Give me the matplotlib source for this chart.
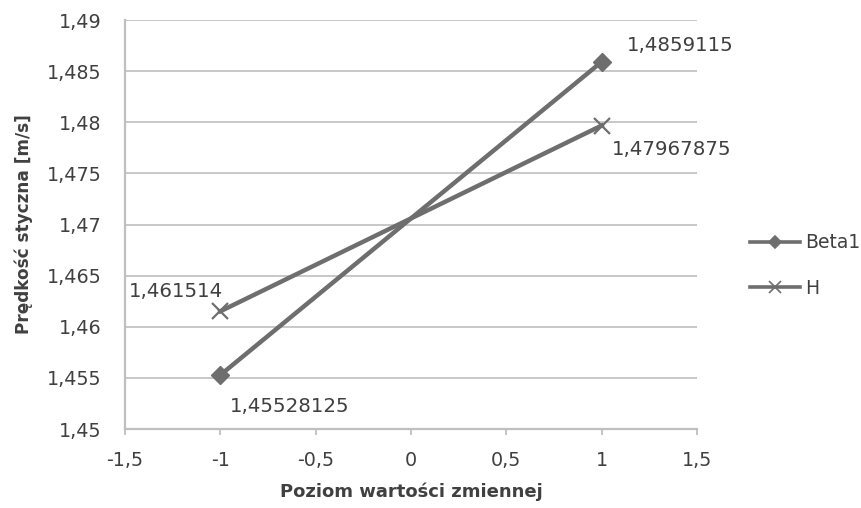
import matplotlib.pyplot as plt
import matplotlib.ticker as mticker

# dane z wykresu
poziomy = [-1, 1]
beta1 = [1.45528125, 1.4859115]
h = [1.461514, 1.47967875]
x_ticks = [-1.5, -1, -0.5, 0, 0.5, 1, 1.5]
y_ticks = [1.45, 1.455, 1.46, 1.465, 1.47, 1.475, 1.48, 1.485, 1.49]

plt.rcParams['font.family'] = ['DejaVu Sans']

kolor_linii = '#6e6e6e'
kolor_tekstu = '#404040'
kolor_osi = '#bfbfbf'


def fmt_pl(v, pos=None):
    # przecinek dziesiętny jak w Excelu
    return f'{v:.10g}'.replace('.', ',')


fig = plt.figure(figsize=(8.61, 5.08), dpi=100)
ax = fig.add_axes([0.1452, 0.1555, 0.6643, 0.8051])

ax.plot(poziomy, beta1, color=kolor_linii, linewidth=3.2, marker='D',
        markersize=9, label='Beta1', zorder=3)
ax.plot(poziomy, h, color=kolor_linii, linewidth=3.2, marker='x',
        markersize=11, markeredgewidth=1.6, label='H', zorder=3)

# etykiety danych (przesunięcia w pikselach)
etykiety = [
    (poziomy[1], beta1[1], (25, 16), 'left'),
    (poziomy[1], h[1], (10, -24), 'left'),
    (poziomy[0], h[0], (3, 20), 'right'),
    (poziomy[0], beta1[0], (10, -31), 'left'),
]
for x, y, off, ha in etykiety:
    ax.annotate(fmt_pl(y), (x, y), xytext=off, textcoords='offset pixels',
                ha=ha, va='center', fontsize=14.2, color=kolor_tekstu)

ax.set_xlim(-1.5, 1.5)
ax.set_ylim(1.45, 1.49)
ax.set_xticks(x_ticks)
ax.set_yticks(y_ticks)
ax.xaxis.set_major_formatter(mticker.FuncFormatter(fmt_pl))
ax.yaxis.set_major_formatter(mticker.FuncFormatter(fmt_pl))

ax.grid(axis='y', color='#c4c4c4', linewidth=1.3)
ax.set_axisbelow(True)
for strona in ['top', 'right']:
    ax.spines[strona].set_visible(False)
for strona in ['left', 'bottom']:
    ax.spines[strona].set_color(kolor_osi)
    ax.spines[strona].set_linewidth(1.6)

ax.tick_params(axis='both', colors=kolor_osi, labelcolor=kolor_tekstu,
               labelsize=13.8, length=4, width=1.3)
ax.tick_params(axis='x', pad=12)
ax.tick_params(axis='y', length=0, pad=17)

ax.set_xlabel('Poziom wartości zmiennej', fontsize=13, fontweight='bold',
              color=kolor_tekstu)
ax.set_ylabel('Prędkość styczna [m/s]', fontsize=12.2, fontweight='bold',
              color=kolor_tekstu)
ax.xaxis.set_label_coords(0.5, -0.13)
ax.yaxis.set_label_coords(-0.161, 0.5)

leg = ax.legend(loc='center left', bbox_to_anchor=(1.0927, 0.40),
                frameon=False, fontsize=13.5, labelcolor=kolor_tekstu,
                handlelength=2.67, handletextpad=0.27, labelspacing=1.4,
                borderpad=0, borderaxespad=0)
for uchwyt, rozmiar in zip(leg.legend_handles, [6, 8]):
    uchwyt.set_markersize(rozmiar)
    uchwyt.set_markeredgewidth(1.2)
    uchwyt.set_linewidth(2.6)

plt.savefig('out.png', dpi=100)
